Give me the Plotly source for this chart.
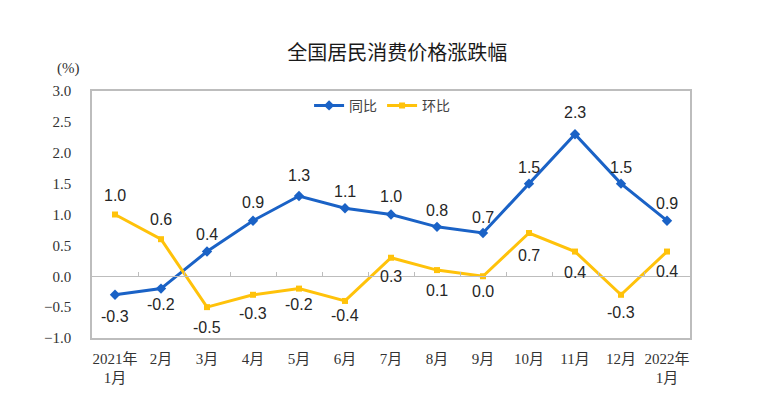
import plotly.graph_objects as go

categories = ["2021年<br>1月", "2月", "3月", "4月", "5月", "6月", "7月", "8月", "9月",
              "10月", "11月", "12月", "2022年<br>1月"]
yoy = [-0.3, -0.2, 0.4, 0.9, 1.3, 1.1, 1.0, 0.8, 0.7, 1.5, 2.3, 1.5, 0.9]
mom = [1.0, 0.6, -0.5, -0.3, -0.2, -0.4, 0.3, 0.1, 0.0, 0.7, 0.4, -0.3, 0.4]
yoy_name = "同比"
mom_name = "环比"
title_text = "全国居民消费价格涨跌幅"
unit_text = "(%)"

# label offsets in pixels (positive = above the point) -- styling only
yoy_label_shift = [-22, -16, 17, 18, 20, 17, 18, 16, 16, 16, 22, 16, 17]
mom_label_shift = [19, 20, -20, -19, -16, -15, -19, -20, -15, -22, -21, -18, -20]

BLUE = "#1A62C6"
YELLOW = "#FFC20A"
LABEL_FONT = dict(family="Liberation Sans, Arial, sans-serif", size=16, color="#262626")
SERIF = "Liberation Serif, Noto Sans CJK SC, serif"

fig = go.Figure()
fig.add_trace(go.Scatter(
    x=categories, y=yoy, name=yoy_name, mode="lines+markers",
    line=dict(color=BLUE, width=3), marker=dict(symbol="diamond", size=8, color=BLUE),
    cliponaxis=False,
))
fig.add_trace(go.Scatter(
    x=categories, y=mom, name=mom_name, mode="lines+markers",
    line=dict(color=YELLOW, width=3), marker=dict(symbol="square", size=6, color=YELLOW),
    cliponaxis=False,
))
# invisible trace to hold the zero-line axis
fig.add_trace(go.Scatter(x=[0], y=[0], xaxis="x2", mode="markers",
                         marker=dict(opacity=0), showlegend=False, hoverinfo="skip"))

annotations = []
for series, shifts in ((yoy, yoy_label_shift), (mom, mom_label_shift)):
    for c, v, s in zip(categories, series, shifts):
        annotations.append(dict(x=c, y=v, xref="x", yref="y", text=f"{v:.1f}",
                                showarrow=False, yshift=s, xanchor="center",
                                yanchor="middle", font=LABEL_FONT))
annotations.append(dict(text=unit_text, xref="paper", yref="paper", x=-0.040, y=1.093,
                        showarrow=False, xanchor="center", yanchor="middle",
                        font=dict(family=SERIF, size=15, color="#333")))

n = len(categories)
fig.update_layout(
    width=750, height=408,
    margin=dict(l=84, r=68, t=83, b=78),
    paper_bgcolor="white", plot_bgcolor="white",
    title=dict(text=title_text, x=0.519, xanchor="center", y=0.89, yanchor="middle",
               font=dict(family="Noto Sans CJK SC", size=20, color="#1a1a1a")),
    showlegend=True,
    legend=dict(orientation="h", x=0.363, xanchor="left", y=0.94, yanchor="middle",
                font=dict(family="Noto Sans CJK SC", size=14, color="#444"),
                bgcolor="rgba(0,0,0,0)", itemwidth=30, tracegroupgap=0),
    xaxis=dict(type="category", range=[-0.5, n - 0.5], showgrid=False,
               showline=True, mirror=True, linecolor="#BDBDBD", linewidth=1.5,
               ticks="", tickfont=dict(family=SERIF, size=15, color="#333"),
               ticklabelstandoff=6, zeroline=False),
    xaxis2=dict(overlaying="x", side="top", anchor="free", position=0.25,
                range=[-0.5, n - 0.5], showgrid=False, zeroline=False,
                showline=True, linecolor="#BDBDBD", linewidth=1.2,
                ticks="outside", ticklen=4, tickcolor="#BDBDBD", tickwidth=1,
                tickmode="array", tickvals=[i + 0.5 for i in range(n - 1)],
                showticklabels=False),
    yaxis=dict(range=[-1, 3], dtick=0.5, tick0=-1, tickformat=".1f", showgrid=False,
               zeroline=False, showline=True, mirror=True, linecolor="#BDBDBD",
               linewidth=1.5, ticks="", ticklabelstandoff=16,
               tickfont=dict(family=SERIF, size=15, color="#333")),
    annotations=annotations,
)

fig.write_html("out.html")
